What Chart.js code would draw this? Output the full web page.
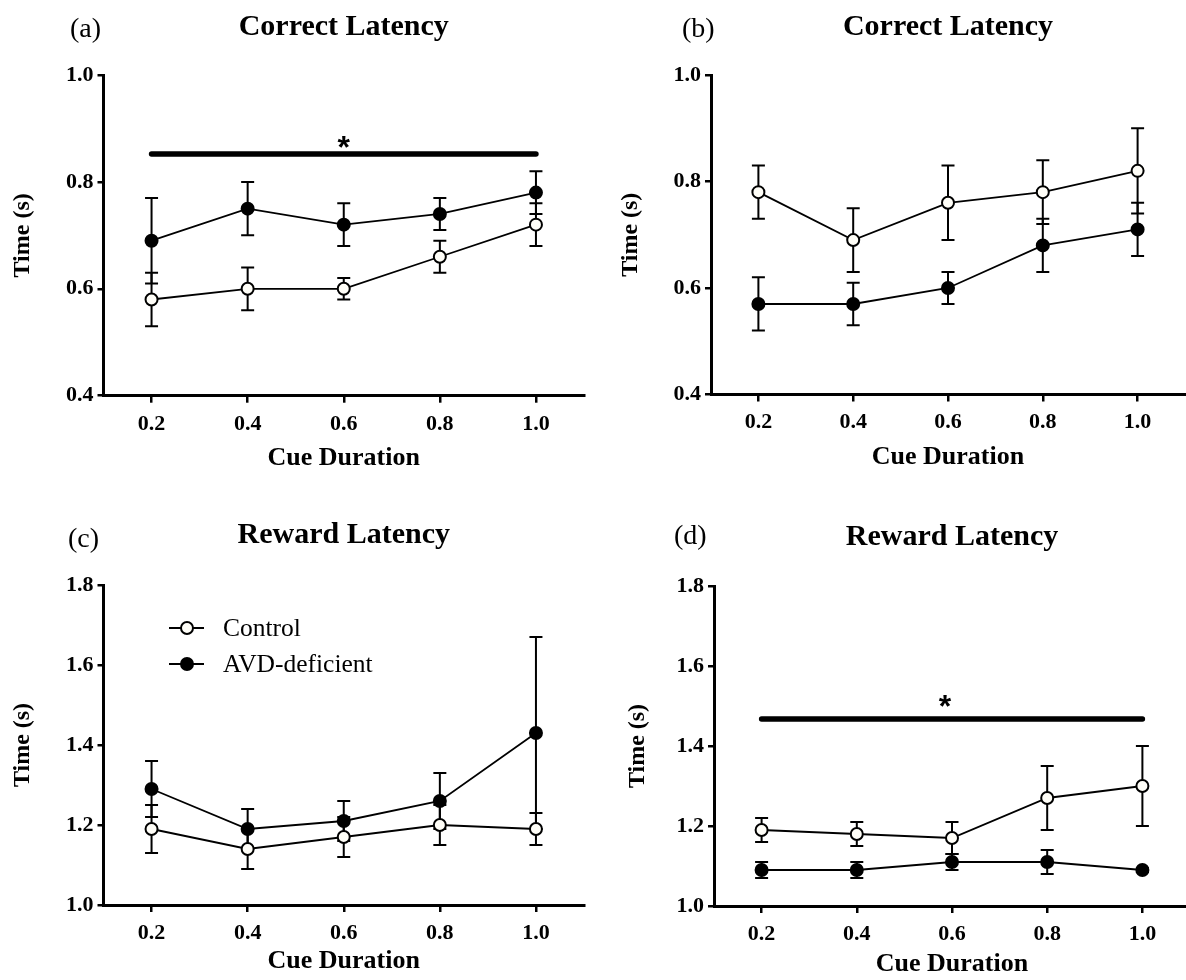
<!DOCTYPE html>
<html><head><meta charset="utf-8">
<script src="https://cdn.jsdelivr.net/npm/chart.js@4"></script>
<style>
html,body{margin:0;padding:0;background:#fff;overflow:hidden;width:1186px;height:980px}
#wrap{position:relative;width:1186px;height:980px;overflow:hidden;background:#fff}
canvas{position:absolute}
</style></head><body><div id="wrap">
<canvas id="ca" width="593" height="490" style="left:0;top:0"></canvas>
<canvas id="cb" width="600" height="490" style="left:593px;top:0"></canvas>
<canvas id="cc" width="593" height="490" style="left:0;top:490px"></canvas>
<canvas id="cd" width="605" height="490" style="left:593px;top:490px"></canvas>
</div>
<script>
// ---- data ----
const cueDurations = [0.2, 0.4, 0.6, 0.8, 1.0];
const xTickLabels = ['0.2', '0.4', '0.6', '0.8', '1.0'];
const yTicksCorrect = [0.4, 0.6, 0.8, 1.0];
const yTicksReward = [1.0, 1.2, 1.4, 1.6, 1.8];
const seriesNames = ['Control', 'AVD-deficient'];

// (a) Correct Latency
const aControl = [0.58, 0.60, 0.60, 0.66, 0.72];
const aControlErr = [0.05, 0.04, 0.02, 0.03, 0.04];
const aAVD = [0.69, 0.75, 0.72, 0.74, 0.78];
const aAVDErr = [0.08, 0.05, 0.04, 0.03, 0.04];
const aSig = 0.852, aStarY = 0.876, aStarX = 0.6;

// (b) Correct Latency
const bControl = [0.78, 0.69, 0.76, 0.78, 0.82];
const bControlErr = [0.05, 0.06, 0.07, 0.06, 0.08];
const bAVD = [0.57, 0.57, 0.60, 0.68, 0.71];
const bAVDErr = [0.05, 0.04, 0.03, 0.05, 0.05];

// (c) Reward Latency
const cControl = [1.19, 1.14, 1.17, 1.20, 1.19];
const cControlErr = [0.06, 0.05, 0.05, 0.05, 0.04];
const cAVD = [1.29, 1.19, 1.21, 1.26, 1.43];
const cAVDErr = [0.07, 0.05, 0.05, 0.07, 0.24];

// (d) Reward Latency
const dControl = [1.19, 1.18, 1.17, 1.27, 1.30];
const dControlErr = [0.03, 0.03, 0.04, 0.08, 0.10];
const dAVD = [1.09, 1.09, 1.11, 1.11, 1.09];
const dAVDErr = [0.02, 0.02, 0.02, 0.03, 0.005];
const dSig = 1.4675, dStarY = 1.513, dStarX = 0.585;

// ---- drawing ----
const FONT = "'Liberation Serif','Times New Roman',serif";
const STAR_FONT = "bold 32px 'Liberation Sans', Arial, sans-serif";
const OPEN_FILL = '#fffef8';

function pts(vals) { return vals.map((v, i) => ({ x: cueDurations[i], y: v })); }

function makePanel(id, cfg) {
  const canvas = document.getElementById(id);
  const H = canvas.height, W = canvas.width;
  const extras = {
    id: 'extras',
    beforeDatasetsDraw(chart) {
      const { ctx, scales: { x, y } } = chart;
      ctx.save();
      ctx.strokeStyle = '#000';
      ctx.lineWidth = 2;
      cfg.series.forEach(s => {
        s.values.forEach((v, i) => {
          const e = s.errors[i];
          const px = x.getPixelForValue(cueDurations[i]);
          const yt = y.getPixelForValue(v + e), yb = y.getPixelForValue(v - e);
          ctx.beginPath();
          ctx.moveTo(px, yt); ctx.lineTo(px, yb);
          ctx.moveTo(px - 6.5, yt); ctx.lineTo(px + 6.5, yt);
          ctx.moveTo(px - 6.5, yb); ctx.lineTo(px + 6.5, yb);
          ctx.stroke();
        });
      });
      ctx.restore();
    },
    afterDraw(chart) {
      const { ctx, scales: { x, y }, chartArea } = chart;
      ctx.save();
      // panel label
      ctx.fillStyle = '#000';
      ctx.font = '28px ' + FONT;
      ctx.textAlign = 'left';
      ctx.textBaseline = 'middle';
      ctx.fillText(cfg.label, cfg.labelPos[0], cfg.labelPos[1]);
      // significance bar
      if (cfg.sig) {
        const yy = y.getPixelForValue(cfg.sig.y);
        ctx.strokeStyle = '#000';
        ctx.lineWidth = 5.5;
        ctx.lineCap = 'round';
        ctx.beginPath();
        ctx.moveTo(x.getPixelForValue(cueDurations[0]), yy);
        ctx.lineTo(x.getPixelForValue(cueDurations[cueDurations.length - 1]), yy);
        ctx.stroke();
        ctx.font = STAR_FONT;
        ctx.textAlign = 'center';
        ctx.textBaseline = 'alphabetic';
        ctx.fillText('*', x.getPixelForValue(cfg.sig.starX), y.getPixelForValue(cfg.sig.starY) + 16.5);
      }
      // legend
      if (cfg.legend) {
        const lx = chartArea.left + 65.5, ly = chartArea.top + 43, gap = 36;
        cfg.series.forEach((s, k) => {
          const yy = ly + k * gap;
          ctx.strokeStyle = '#000';
          ctx.lineWidth = 2;
          ctx.beginPath();
          ctx.moveTo(lx, yy); ctx.lineTo(lx + 35, yy);
          ctx.stroke();
          ctx.beginPath();
          ctx.arc(lx + 18, yy, 6, 0, Math.PI * 2);
          ctx.fillStyle = s.fill;
          ctx.fill();
          ctx.stroke();
          ctx.fillStyle = '#000';
          ctx.font = '25.5px ' + FONT;
          ctx.textAlign = 'left';
          ctx.textBaseline = 'middle';
          ctx.fillText(s.name, lx + 54, yy + 1);
        });
      }
      ctx.restore();
    }
  };

  return new Chart(canvas, {
    type: 'line',
    data: {
      datasets: cfg.series.map(s => ({
        label: s.name,
        data: pts(s.values),
        borderColor: '#000',
        borderWidth: 1.8,
        pointRadius: 6,
        pointHoverRadius: 6,
        pointBorderWidth: 2,
        pointBorderColor: '#000',
        pointBackgroundColor: s.fill,
        tension: 0,
        clip: false
      }))
    },
    options: {
      responsive: false,
      animation: false,
      events: [],
      layout: { padding: { left: cfg.area.left - 103.5, right: W - cfg.area.right, top: 0, bottom: 0 } },
      plugins: {
        legend: { display: false },
        tooltip: { enabled: false },
        title: {
          display: true,
          text: cfg.title,
          fullSize: false,
          color: '#000',
          font: { family: FONT, size: 30, weight: 'bold', lineHeight: 1.2 },
          padding: { top: cfg.titleCY - 18, bottom: cfg.area.top - (cfg.titleCY - 18) - 36 }
        }
      },
      scales: {
        x: {
          type: 'linear',
          position: 'bottom',
          min: 0.1, max: 1.1,
          afterBuildTicks: s => { s.ticks = cueDurations.map(v => ({ value: v })); },
          afterFit: s => { s.height = H - cfg.area.bottom; },
          border: { display: true, color: '#000', width: 3 },
          grid: { drawOnChartArea: false, drawTicks: true, color: '#000', lineWidth: 2.5, tickLength: 7 },
          ticks: {
            color: '#000', padding: 8, maxRotation: 0, autoSkip: false,
            font: { family: FONT, size: 22, weight: 'bold' },
            callback: v => xTickLabels[cueDurations.indexOf(v)]
          },
          title: {
            display: true, text: 'Cue Duration', color: '#000',
            font: { family: FONT, size: 26, weight: 'bold', lineHeight: 1.2 },
            padding: { top: 0, bottom: cfg.xTitlePad }
          }
        },
        y: {
          type: 'linear',
          position: 'left',
          min: cfg.yTicks[0], max: cfg.yTicks[cfg.yTicks.length - 1],
          afterBuildTicks: s => { s.ticks = cfg.yTicks.map(v => ({ value: v })); },
          afterFit: s => { s.width = 103.5; },
          border: { display: true, color: '#000', width: 3 },
          grid: { drawOnChartArea: false, drawTicks: true, color: '#000', lineWidth: 2.5, tickLength: 6 },
          ticks: {
            color: '#000', padding: 4,
            font: { family: FONT, size: 22, weight: 'bold' },
            callback: v => v.toFixed(1)
          },
          title: {
            display: true, text: 'Time (s)', color: '#000',
            font: { family: FONT, size: 24, weight: 'bold', lineHeight: 1.2 },
            padding: { top: cfg.yTitlePad, bottom: 0 }
          }
        }
      }
    },
    plugins: [extras]
  });
}

function series(ctrl, ctrlErr, avd, avdErr) {
  return [
    { name: seriesNames[0], values: ctrl, errors: ctrlErr, fill: OPEN_FILL },
    { name: seriesNames[1], values: avd, errors: avdErr, fill: '#000' }
  ];
}

makePanel('ca', {
  label: '(a)', labelPos: [70, 30], title: 'Correct Latency', titleCY: 27,
  area: { left: 103.5, right: 584, top: 75, bottom: 395.7 },
  yTicks: yTicksCorrect, yTitlePad: 8, xTitlePad: 16,
  series: series(aControl, aControlErr, aAVD, aAVDErr),
  sig: { y: aSig, starX: aStarX, starY: aStarY }
});
makePanel('cb', {
  label: '(b)', labelPos: [89, 30], title: 'Correct Latency', titleCY: 27,
  area: { left: 118, right: 598.5, top: 75, bottom: 394.5 },
  yTicks: yTicksCorrect, yTitlePad: 9, xTitlePad: 17,
  series: series(bControl, bControlErr, bAVD, bAVDErr)
});
makePanel('cc', {
  label: '(c)', labelPos: [68, 50], title: 'Reward Latency', titleCY: 45,
  area: { left: 103.5, right: 584, top: 95, bottom: 415 },
  yTicks: yTicksReward, yTitlePad: 8, xTitlePad: 3,
  series: series(cControl, cControlErr, cAVD, cAVDErr),
  legend: true
});
makePanel('cd', {
  label: '(d)', labelPos: [81, 47], title: 'Reward Latency', titleCY: 47,
  area: { left: 121, right: 601, top: 96, bottom: 416 },
  yTicks: yTicksReward, yTitlePad: 13, xTitlePad: 0,
  series: series(dControl, dControlErr, dAVD, dAVDErr),
  sig: { y: dSig, starX: dStarX, starY: dStarY }
});
</script>
</body></html>
